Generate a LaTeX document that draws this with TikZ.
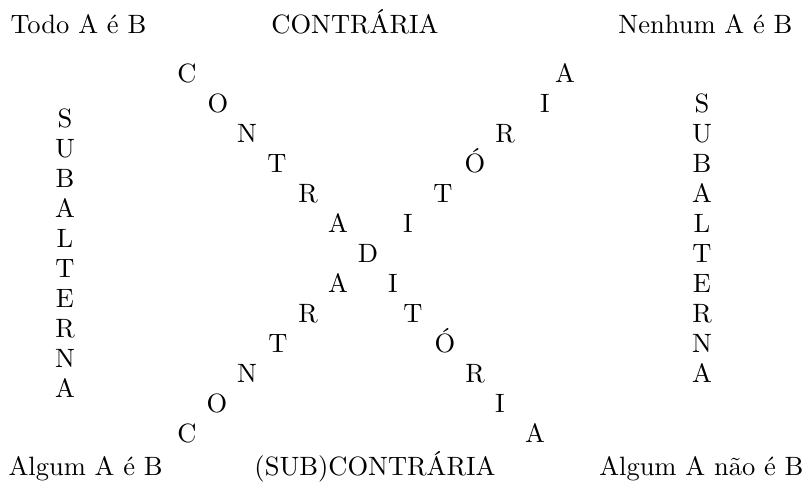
\documentclass[tikz,border=0pt]{standalone}
\usepackage{fontspec}
\begin{document}
\begin{tikzpicture}[x=0.3774pt,y=-0.3774pt,
  lt/.style={inner sep=0pt,anchor=base},
  lbl/.style={inner sep=0pt}]
\useasboundingbox (0,0) rectangle (806,486);
% corner and edge labels
\node[lbl,anchor=base west] (todo) at (10,33) {Todo A é B};
\node[lbl,anchor=base] (contr) at (355,33) {CONTRÁRIA};
\node[lbl,anchor=base east] (nenhum) at (793,33) {Nenhum A é B};
\node[lbl,anchor=base west] (algum) at (8,475) {Algum A é B};
\node[lbl,anchor=base] (subc) at (375,475) {(SUB)CONTRÁRIA};
\node[lbl,anchor=base east] (algumnao) at (804,475) {Algum A não é B};
% upper-left diagonal
\node[lt] (ul1) at (187,82) {C};
\node[lt] (ul2) at (218,112) {O};
\node[lt] (ul3) at (247,142) {N};
\node[lt] (ul4) at (277,172) {T};
\node[lt] (ul5) at (308,202) {R};
\node[lt] (ul6) at (338,232) {A};
\node[lt] (dd) at (368,262) {D};
% upper-right diagonal
\node[lt] (ur1) at (565,82) {A};
\node[lt] (ur2) at (545,112) {I};
\node[lt] (ur3) at (505,142) {R};
\node[lt] (ur4) at (475,172) {Ó};
\node[lt] (ur5) at (443,202) {T};
\node[lt] (ur6) at (408,232) {I};
% lower-left diagonal
\node[lt] (ll6) at (338,292) {A};
\node[lt] (ll5) at (308,322) {R};
\node[lt] (ll4) at (278,352) {T};
\node[lt] (ll3) at (247,382) {N};
\node[lt] (ll2) at (217,412) {O};
\node[lt] (ll1) at (187,442) {C};
% lower-right diagonal
\node[lt] (lr6) at (393,292) {I};
\node[lt] (lr5) at (413,322) {T};
\node[lt] (lr4) at (445,352) {Ó};
\node[lt] (lr3) at (475,382) {R};
\node[lt] (lr2) at (500,412) {I};
\node[lt] (lr1) at (535,442) {A};
% left column
\foreach \ch [count=\i from 0] in {S,U,B,A,L,T,E,R,N,A}
  \node[lt] (lc\i) at (65,127+30*\i) {\ch};
% right column
\foreach \ch [count=\i from 0] in {S,U,B,A,L,T,E,R,N,A}
  \node[lt] (rc\i) at (702,112+30*\i) {\ch};
\end{tikzpicture}
\end{document}
